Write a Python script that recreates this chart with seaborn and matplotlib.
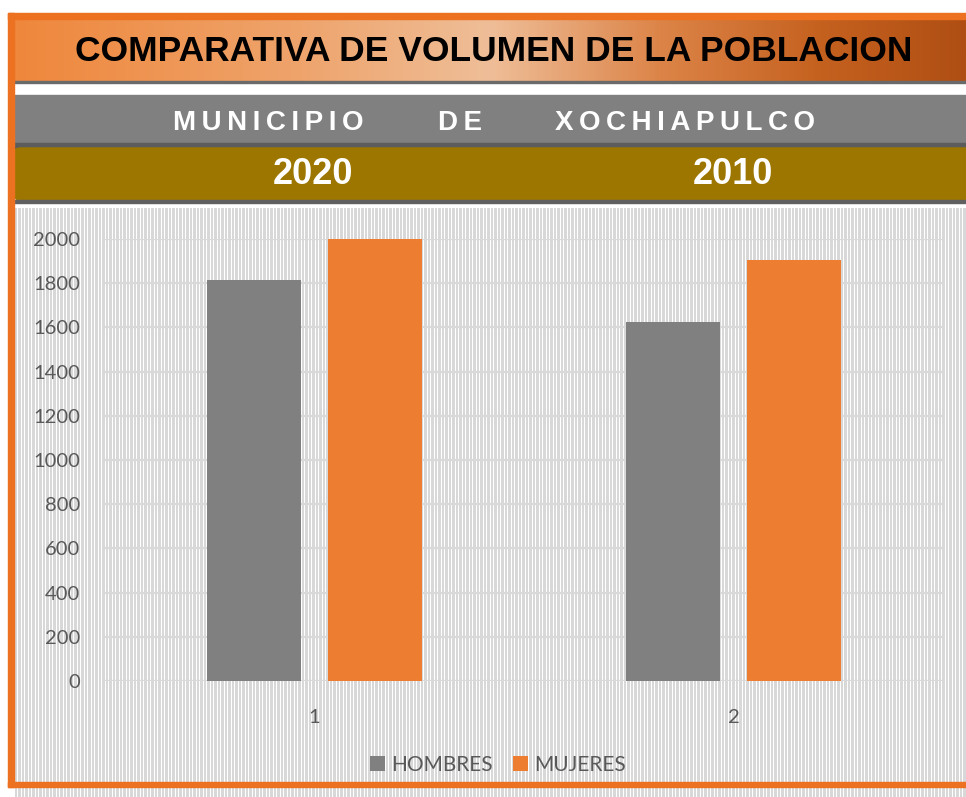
import numpy as np
import pandas as pd
import matplotlib
matplotlib.use("Agg")
import matplotlib.pyplot as plt
import seaborn as sns
from matplotlib.patches import Rectangle, FancyBboxPatch
from matplotlib.colors import LinearSegmentedColormap

# Chart data
categories = ['1', '2']
years = ['2020', '2010']
hombres = [1815, 1625]
mujeres = [2003, 1905]
series = ['HOMBRES', 'MUJERES']
yticks = list(range(0, 2001, 200))

df = pd.DataFrame({
    'Grupo': categories * 2,
    'Sexo': [series[0]] * 2 + [series[1]] * 2,
    'Poblacion': hombres + mujeres,
})

sns.set_theme(style="white")
plt.rcParams['font.family'] = ['Lato', 'DejaVu Sans']

W, H = 966, 797
fig = plt.figure(figsize=(W / 100, H / 100), dpi=100)

# Background layer in pixel coordinates
bg = fig.add_axes([0, 0, 1, 1])
bg.set_xlim(0, W)
bg.set_ylim(H, 0)
bg.axis('off')

# vertical stripe fill of the chart area
pattern = np.array([1, 1, 0, 1, 1, 1, 0])
row = np.resize(pattern, W - 15)
stripe = np.where(row[None, :, None] == 1,
                  np.array([0.85, 0.85, 0.85]), np.array([1.0, 1.0, 1.0]))
stripe = np.repeat(stripe, H - 208, axis=0)
bg.imshow(stripe, extent=(15, W, H, 208), interpolation='nearest', aspect='auto', zorder=1)

# title band gradient
grad = LinearSegmentedColormap.from_list('g', [
    (0.0, '#ef873c'), (0.3, '#eea46c'), (0.5, '#efbe98'),
    (0.68, '#dc8448'), (0.85, '#c5611f'), (1.0, '#b04f14')])
bg.imshow(np.linspace(0, 1, 400)[None, :], cmap=grad, extent=(14, W, 81, 19),
          aspect='auto', zorder=1)
bg.add_patch(Rectangle((14, 81), W - 14, 2, color='#6a6a6a', zorder=2))

# subtitle bands
bg.add_patch(Rectangle((14, 95), W - 14, 48, color='#808080', zorder=2))
bg.add_patch(Rectangle((14, 143), W - 14, 6, color='#5c5c5c', zorder=2))
bg.add_patch(FancyBboxPatch((14, 148), W, 52, boxstyle='round,pad=0,rounding_size=6',
                            color='#9d7600', zorder=3))
bg.add_patch(Rectangle((14, 200), W - 14, 3, color='#606060', zorder=3))

# orange frame
orange = '#ec7120'
bg.add_patch(Rectangle((8, 13), W - 8, 6, color=orange, zorder=4))
bg.add_patch(Rectangle((8, 13), 6, 774, color=orange, zorder=4))
bg.add_patch(Rectangle((8, 782), W - 8, 5, color=orange, zorder=4))

bg.text(494, 51, 'COMPARATIVA DE VOLUMEN DE LA POBLACION', ha='center', va='center',
        fontsize=25.5, fontweight='bold', color='black',
        family=['Liberation Sans', 'DejaVu Sans'], zorder=5)

spaced = lambda s: '\u2009'.join(s)
for word, xc in [('MUNICIPIO', 268), ('DE', 460), ('XOCHIAPULCO', 685)]:
    bg.text(xc, 123, spaced(word), ha='center', va='center', fontsize=20,
            fontweight='bold', color='white',
            family=['Liberation Sans', 'DejaVu Sans'], zorder=5)
for yr, xc in zip(years, [313, 733]):
    bg.text(xc, 174, yr, ha='center', va='center', fontsize=26, fontweight='bold',
            color='white', family=['Liberation Sans', 'DejaVu Sans'], zorder=5)

# Chart
ax = fig.add_axes([105 / W, (H - 681) / H, 838 / W, 442 / H])
ax.patch.set_alpha(0)
sns.barplot(data=df, x='Grupo', y='Poblacion', hue='Sexo', ax=ax,
            palette={'HOMBRES': '#808080', 'MUJERES': '#ed7d31'},
            width=0.573, gap=0.217, linewidth=0, saturation=1, zorder=3)
ax.set_xlim(-0.5, 1.5)
ax.set_ylim(0, 2000)
ax.set_yticks(yticks)
ax.yaxis.grid(True, color='#d9d9d9', linewidth=1.6, zorder=0)
ax.set_axisbelow(True)
for sp in ax.spines.values():
    sp.set_visible(False)
ax.set_xlabel('')
ax.set_ylabel('')
ax.tick_params(axis='y', length=0, pad=18, labelsize=14.5, labelcolor='#595959')
ax.tick_params(axis='x', length=0, pad=20, labelsize=14.5, labelcolor='#595959')

handles, labels = ax.get_legend_handles_labels()
ax.legend(handles, labels, loc='center', bbox_to_anchor=(498 / W, (H - 765) / H),
          bbox_transform=fig.transFigure, ncol=2, frameon=False, fontsize=15,
          handlelength=0.7, handleheight=0.7, handletextpad=0.3, columnspacing=1.0,
          labelcolor='#595959')

fig.savefig('out.png', dpi=100)
